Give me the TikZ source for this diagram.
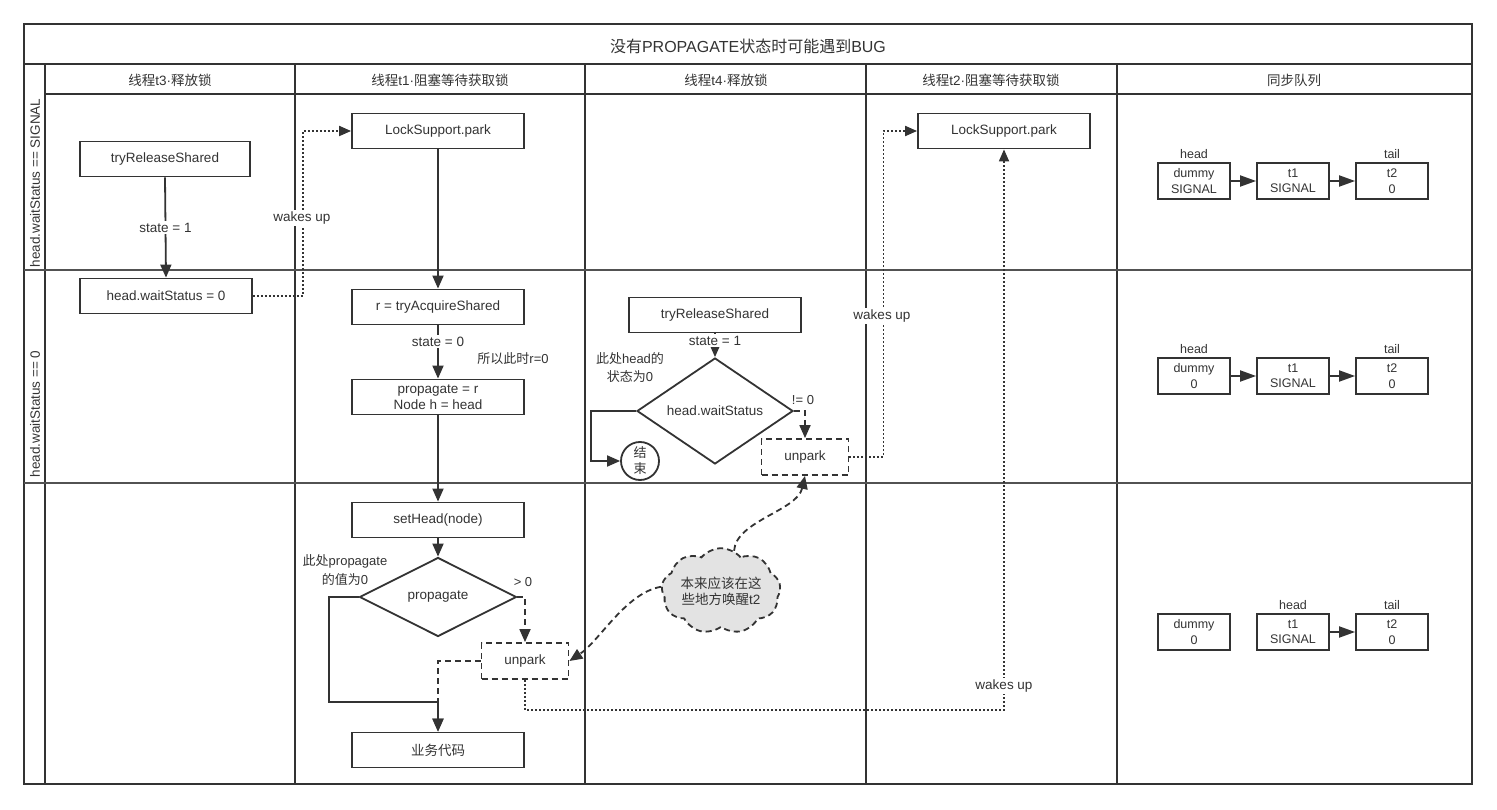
\documentclass[tikz,border=0pt]{standalone}
\usepackage{fontspec}
\setmainfont{Liberation Sans}
\newfontfamily\cjk{Noto Sans CJK SC}
\usetikzlibrary{arrows.meta,shapes.geometric,shapes.symbols,positioning,calc}
\definecolor{ink}{HTML}{333333}
\definecolor{cloudfill}{HTML}{E3E3E3}
\newcommand{\zh}[1]{{\cjk #1}}
\newcommand{\fsz}[1]{\fontsize{#1}{#1}\selectfont}

\begin{document}
\begin{tikzpicture}[x=1pt,y=-1pt,
  every node/.style={text=ink, font=\fontsize{13.5}{16}\selectfont},
  frame/.style={draw=ink, line width=1.8pt},
  rowline/.style={draw=ink!85, line width=1.8pt},
  proc/.style={draw=ink, line width=1.8pt, minimum width=172pt, minimum height=35pt, inner sep=0pt, align=center},
  dproc/.style={proc, dash pattern=on 6pt off 4pt, minimum width=87pt, minimum height=36pt},
  decision/.style={diamond, draw=ink, line width=1.8pt, minimum width=157pt, minimum height=79pt, inner sep=0pt},
  terminal/.style={circle, draw=ink, line width=1.8pt, minimum size=38pt, inner sep=0pt, align=center, font=\cjk\fontsize{13}{16}\selectfont},
  qbox/.style={draw=ink, line width=1.8pt, minimum width=72pt, minimum height=36pt, inner sep=0pt, align=center, font=\fontsize{12.5}{15.5}\selectfont},
  qlabel/.style={font=\fontsize{12.5}{15}\selectfont, inner sep=1pt},
  note/.style={align=center, inner sep=1pt, font=\fontsize{13}{17}\selectfont},
  lbl/.style={fill=white, inner sep=1.5pt},
  tip/.style={-{Triangle[length=13pt,width=11pt]}},
  arr/.style={draw=ink, line width=1.8pt, tip},
  dasharr/.style={draw=ink, line width=1.8pt, dash pattern=on 6pt off 4pt, tip},
  dotarr/.style={draw=ink, line width=1.8pt, dash pattern=on 2pt off 2pt, -{Triangle[length=12pt,width=10pt]}},
  qarr/.style={draw=ink, line width=1.8pt, -{Triangle[length=16pt,width=11pt]}},
  puffy/.style={cloud, cloud puffs=9, cloud puff arc=100, aspect=1.6, draw=ink, line width=1.8pt,
    dash pattern=on 6pt off 4pt, fill=cloudfill, minimum width=100pt, minimum height=60pt, inner sep=0pt, align=center}
]
\useasboundingbox (0,0) rectangle (1497,810);

% ---- swimlane frame ----
\draw[frame] (24,24) rectangle (1472,784);
\draw[frame] (24,64) -- (1472,64);
\draw[frame] (45,94) -- (1472,94);
\draw[frame] (45,64) -- (45,784);
\foreach \cx in {295,585,866,1117} \draw[frame] (\cx,64) -- (\cx,784);
\draw[rowline] (24,270) -- (1472,270);
\draw[rowline] (24,483) -- (1472,483);

% ---- titles ----
\node (title) at (748,46) {\fsz{16}\zh{没有}PROPAGATE\zh{状态时可能遇到}BUG};
\node (hd1) at (170,80) {\fsz{13.5}\zh{线程}t3·\zh{释放锁}};
\node (hd2) at (440,80) {\fsz{13.5}\zh{线程}t1·\zh{阻塞等待获取锁}};
\node (hd3) at (726,80) {\fsz{13.5}\zh{线程}t4·\zh{释放锁}};
\node (hd4) at (991,80) {\fsz{13.5}\zh{线程}t2·\zh{阻塞等待获取锁}};
\node (hd5) at (1294,80) {\fsz{13.5}\zh{同步队列}};
\node[rotate=90] (lane1) at (35,183) {head.waitStatus == SIGNAL};
\node[rotate=90] (lane2) at (35,414) {head.waitStatus == 0};

% ---- thread t3 ----
\node[proc, minimum width=170pt] (trs3) at (165,159) {tryReleaseShared};
\node[proc] (hws3) at (166,296) {head.waitStatus = 0};
\draw[arr] (trs3.south) -- node[lbl] {state = 1} (hws3.north);

% ---- thread t1 ----
\node[proc] (park1) at (438,131) {LockSupport.park};
\node[proc] (tas1) at (438,307) {r = tryAcquireShared};
\node[proc, font=\fontsize{13.5}{16}\selectfont] (prop1) at (438,397) {propagate = r\\Node h = head};
\node[proc] (seth) at (438,520) {setHead(node)};
\node[decision] (dia1) at (438,597) {propagate};
\node[dproc] (unp1) at (525,661) {unpark};
\node[proc] (biz) at (438,750) {\zh{业务代码}};
\node[note] (r0) at (513,359) {\zh{所以此时}r=0};
\node[note, font=\fontsize{13}{19}\selectfont] (pz) at (345,570) {\zh{此处}propagate\\\zh{的值为}0};
\node[note] (gt0) at (523,582) {> 0};

\draw[dotarr] (hws3.east) -- ++(50,0) |- (park1.west);
\node[lbl] (wk1) at (302,218) {wakes up};
\draw[arr] (park1.south) -- (tas1.north);
\draw[arr] (tas1.south) -- node[lbl, pos=0.3] {state = 0} (prop1.north);
\draw[arr] (prop1.south) -- (seth.north);
\draw[arr] (seth.south) -- (dia1.north);
\draw[dasharr] (dia1.east) -| (unp1.north);
\draw[dasharr] (unp1.west) -| (biz.north);
\draw[arr] (dia1.west) -- ++(-30,0) |- ($(biz.north)+(0,-30)$) -- (biz.north);

% ---- thread t4 ----
\node[proc] (trs4) at (715,315) {tryReleaseShared};
\node[decision, minimum width=156pt, minimum height=80pt] (dia4) at (715,411) {head.waitStatus};
\node[terminal] (fin) at (640,461) {结\\束};
\node[dproc] (unp4) at (805,457) {unpark};
\node[note, font=\fontsize{13}{18}\selectfont] (hz) at (630,368) {\zh{此处}head\zh{的}\\\zh{状态为}0};
\node[note] (ne0) at (803,400) {!= 0};

\draw[arr] (trs4.south) -- node[lbl, pos=0.3] {state = 1} (dia4.north);
\draw[arr] (dia4.west) -- ++(-45,0) |- (fin.west);
\draw[dasharr] (dia4.east) -| (unp4.north);

% ---- thread t2 ----
\node[proc] (park2) at (1004,131) {LockSupport.park};
\draw[dotarr] (unp4.east) -- ++(34,0) |- (park2.west);
\node[lbl] (wk2) at (882,316) {wakes up};
\draw[dotarr] (unp1.south) -- ++(0,30) -| (park2.south);
\node[lbl] (wk3) at (1004,686) {wakes up};

% ---- note cloud ----
\node[puffy] (cl) at (721,591) {\zh{本来应该在这}\\\zh{些地方唤醒}t2};
\draw[dasharr] (cl.72) .. controls +(2,-30) and +(-8,35) .. (unp4.south);
\draw[dasharr] (cl.176) .. controls +(-35,6) and +(30,-20) .. (unp1.east);

% ---- sync queue ----
\node[qbox] (q1a) at (1194,181) {dummy\\SIGNAL};
\node[qbox] (q1b) at (1293,181) {t1\\SIGNAL};
\node[qbox] (q1c) at (1392,181) {t2\\0};
\node[qlabel, above=2pt of q1a] (q1h) {head};
\node[qlabel, above=2pt of q1c] (q1t) {tail};
\draw[qarr] (q1a) -- (q1b);
\draw[qarr] (q1b) -- (q1c);

\node[qbox] (q2a) at (1194,376) {dummy\\0};
\node[qbox] (q2b) at (1293,376) {t1\\SIGNAL};
\node[qbox] (q2c) at (1392,376) {t2\\0};
\node[qlabel, above=2pt of q2a] (q2h) {head};
\node[qlabel, above=2pt of q2c] (q2t) {tail};
\draw[qarr] (q2a) -- (q2b);
\draw[qarr] (q2b) -- (q2c);

\node[qbox] (q3a) at (1194,632) {dummy\\0};
\node[qbox] (q3b) at (1293,632) {t1\\SIGNAL};
\node[qbox] (q3c) at (1392,632) {t2\\0};
\node[qlabel, above=2pt of q3b] (q3h) {head};
\node[qlabel, above=2pt of q3c] (q3t) {tail};
\draw[qarr] (q3b) -- (q3c);
\end{tikzpicture}
\end{document}
